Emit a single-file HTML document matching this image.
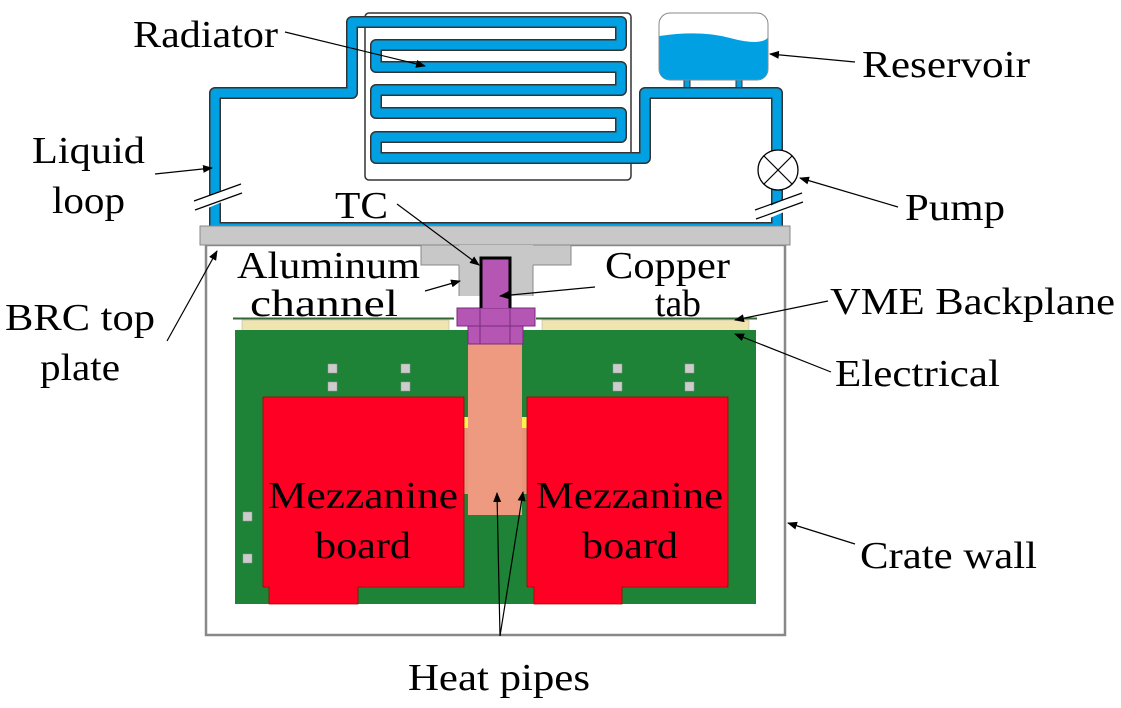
<!DOCTYPE html>
<html><head><meta charset="utf-8"><style>
html,body{margin:0;padding:0;background:#fff;}
svg{display:block;}
svg text{font-family:'Liberation Serif','Times New Roman',Times,serif;font-size:38px;fill:#000;}
</style></head><body>
<svg width="1121" height="708" viewBox="0 0 1121 708">
<defs>
<marker id="ah" markerWidth="10" markerHeight="8" refX="9" refY="4" orient="auto" markerUnits="userSpaceOnUse">
<path d="M0,0 L10,4 L0,8 Z" fill="#000"/></marker>
</defs>
<rect x="365" y="13" width="266" height="167" rx="4" fill="#fff" stroke="#333" stroke-width="1.5"/>
<g>
<rect x="684" y="78" width="6" height="16" fill="#00A0E3" stroke="#333" stroke-width="1"/>
<rect x="736" y="78" width="6" height="16" fill="#00A0E3" stroke="#333" stroke-width="1"/>
<rect x="659" y="13" width="109" height="67" rx="11" fill="#fff" stroke="#888" stroke-width="1"/>
<path d="M659.5,36 Q700,30 730,38 T767.5,38 L767.5,69 Q767.5,79.5 757,79.5 L670,79.5 Q659.5,79.5 659.5,69 Z" fill="#00A0E3"/>
</g>
<g fill="none" stroke-linejoin="round">
<path d="M645,158 L645,93 L777,93 L777,228 L215,228 L215,93 L352,93 L352,22 L621,22 L621,45 L376,45 L376,67 L621,67 L621,90 L376,90 L376,113 L621,113 L621,137 L376,137 L376,158 Z" stroke="#333" stroke-width="12"/>
<path d="M645,158 L645,93 L777,93 L777,228 L215,228 L215,93 L352,93 L352,22 L621,22 L621,45 L376,45 L376,67 L621,67 L621,90 L376,90 L376,113 L621,113 L621,137 L376,137 L376,158 Z" stroke="#00A0E3" stroke-width="9"/>
</g>
<g>
<path d="M208,196 L222,190 L222,202 L208,208Z" fill="#fff"/>
<line x1="194" y1="201" x2="241" y2="184" stroke="#000" stroke-width="1.2"/>
<line x1="195" y1="210" x2="242" y2="193" stroke="#000" stroke-width="1.2"/>
<path d="M770,206 L784,200 L784,212 L770,218Z" fill="#fff"/>
<line x1="755" y1="210" x2="802" y2="193" stroke="#000" stroke-width="1.2"/>
<line x1="756" y1="219" x2="803" y2="202" stroke="#000" stroke-width="1.2"/>
</g>
<g>
<circle cx="778" cy="170" r="20" fill="#fff" stroke="#000" stroke-width="1.3"/>
<line x1="764" y1="156" x2="792" y2="184" stroke="#000" stroke-width="1.2"/>
<line x1="792" y1="156" x2="764" y2="184" stroke="#000" stroke-width="1.2"/>
</g>
<rect x="206" y="245" width="579" height="390" fill="#fff" stroke="#888" stroke-width="2.5"/>
<rect x="200" y="226" width="590" height="19" fill="#c8c8c8" stroke="#888" stroke-width="1"/>
<g>
<rect x="421" y="245" width="150" height="20" fill="#c8c8c8" stroke="#888" stroke-width="1"/>
<rect x="459" y="245" width="74" height="51" fill="#c8c8c8"/>
<line x1="459" y1="265" x2="459" y2="296" stroke="#888"/>
<line x1="533" y1="265" x2="533" y2="296" stroke="#888"/>
</g>
<g>
<line x1="233" y1="318.5" x2="454" y2="318.5" stroke="#336633" stroke-width="2"/>
<line x1="536" y1="318.5" x2="757" y2="318.5" stroke="#336633" stroke-width="2"/>
<rect x="242" y="320" width="207" height="11" fill="#F0E4B0" stroke="#aaa" stroke-width="0.5"/>
<rect x="542" y="320" width="207" height="11" fill="#F0E4B0" stroke="#aaa" stroke-width="0.5"/>
</g>
<rect x="235" y="330" width="521" height="274" fill="#1E8237"/>
<g fill="#ccc" stroke="#999" stroke-width="0.5">
<rect x="328" y="364" width="9" height="9"/><rect x="328" y="382" width="9" height="9"/>
<rect x="401" y="364" width="9" height="9"/><rect x="401" y="382" width="9" height="9"/>
<rect x="613" y="364" width="9" height="9"/><rect x="613" y="382" width="9" height="9"/>
<rect x="685" y="364" width="9" height="9"/><rect x="685" y="382" width="9" height="9"/>
<rect x="243" y="512" width="9" height="9"/><rect x="243" y="554" width="9" height="9"/>
</g>
<rect x="463" y="428" width="64" height="66" fill="#E8957C"/>
<rect x="463" y="417" width="6" height="11" fill="#FFF050"/>
<rect x="521" y="417" width="6" height="11" fill="#FFF050"/>
<g>
<path d="M263,397 L464,397 L464,587 L358,587 L358,604 L269,604 L269,587 L263,587 Z" fill="#FF0025" stroke="#a00" stroke-width="0.8"/>
</g>
<g>
<path d="M527,397 L728,397 L728,587 L622,587 L622,604 L534,604 L534,587 L527,587 Z" fill="#FF0025" stroke="#a00" stroke-width="0.8"/>
</g>
<rect x="468" y="344" width="54" height="171" fill="#EE9A80"/>
<g fill="#B556B4" stroke="#7a2a7a" stroke-width="1">
<rect x="468" y="326" width="55" height="18"/>
<rect x="457" y="308" width="78" height="18"/>
<line x1="480" y1="308" x2="480" y2="344"/>
<line x1="510" y1="308" x2="510" y2="344"/>
<rect x="481" y="258" width="29" height="50" stroke="none"/>
<path d="M481,308 L481,258 L510,258 L510,308" fill="none" stroke="#000" stroke-width="3"/>
</g>
<g stroke="#000" stroke-width="1.2" marker-end="url(#ah)">
<line x1="285" y1="32" x2="425" y2="66"/>
<line x1="855" y1="62" x2="770" y2="54"/>
<line x1="155" y1="174" x2="212" y2="168"/>
<line x1="397" y1="204" x2="479" y2="265"/>
<line x1="898" y1="207" x2="800" y2="178"/>
<line x1="425" y1="291" x2="460" y2="281"/>
<line x1="595" y1="287" x2="500" y2="296"/>
<line x1="828" y1="301" x2="735" y2="320"/>
<line x1="831" y1="372" x2="735" y2="334"/>
<line x1="167" y1="341" x2="217" y2="251"/>
<line x1="855" y1="544" x2="788" y2="523"/>
<line x1="500" y1="636" x2="497" y2="493"/>
<line x1="500" y1="636" x2="523" y2="492"/>
</g>
<g font-family="Liberation Serif, Times New Roman, serif" font-size="38">
<text x="133" y="47" textLength="145" lengthAdjust="spacingAndGlyphs">Radiator</text>
<text x="862" y="77" textLength="168" lengthAdjust="spacingAndGlyphs">Reservoir</text>
<text x="32" y="163" textLength="113" lengthAdjust="spacingAndGlyphs">Liquid</text>
<text x="52" y="213" textLength="73" lengthAdjust="spacingAndGlyphs">loop</text>
<text x="335" y="218" textLength="53" lengthAdjust="spacingAndGlyphs">TC</text>
<text x="905" y="220" textLength="100" lengthAdjust="spacingAndGlyphs">Pump</text>
<text x="237" y="278" textLength="183" lengthAdjust="spacingAndGlyphs">Aluminum</text>
<text x="250" y="316" textLength="148" lengthAdjust="spacingAndGlyphs">channel</text>
<text x="605" y="278" textLength="125" lengthAdjust="spacingAndGlyphs">Copper</text>
<text x="655" y="316" textLength="46" lengthAdjust="spacingAndGlyphs">tab</text>
<text x="830" y="314" textLength="285" lengthAdjust="spacingAndGlyphs">VME Backplane</text>
<text x="5" y="330" textLength="150" lengthAdjust="spacingAndGlyphs">BRC top</text>
<text x="40" y="380" textLength="80" lengthAdjust="spacingAndGlyphs">plate</text>
<text x="835" y="386" textLength="165" lengthAdjust="spacingAndGlyphs">Electrical</text>
<text x="268" y="508" textLength="190" lengthAdjust="spacingAndGlyphs">Mezzanine</text>
<text x="315" y="558" textLength="96" lengthAdjust="spacingAndGlyphs">board</text>
<text x="536" y="508" textLength="187" lengthAdjust="spacingAndGlyphs">Mezzanine</text>
<text x="582" y="558" textLength="96" lengthAdjust="spacingAndGlyphs">board</text>
<text x="860" y="568" textLength="177" lengthAdjust="spacingAndGlyphs">Crate wall</text>
<text x="408" y="690" textLength="182" lengthAdjust="spacingAndGlyphs">Heat pipes</text>
</g>
</svg>
</body></html>
